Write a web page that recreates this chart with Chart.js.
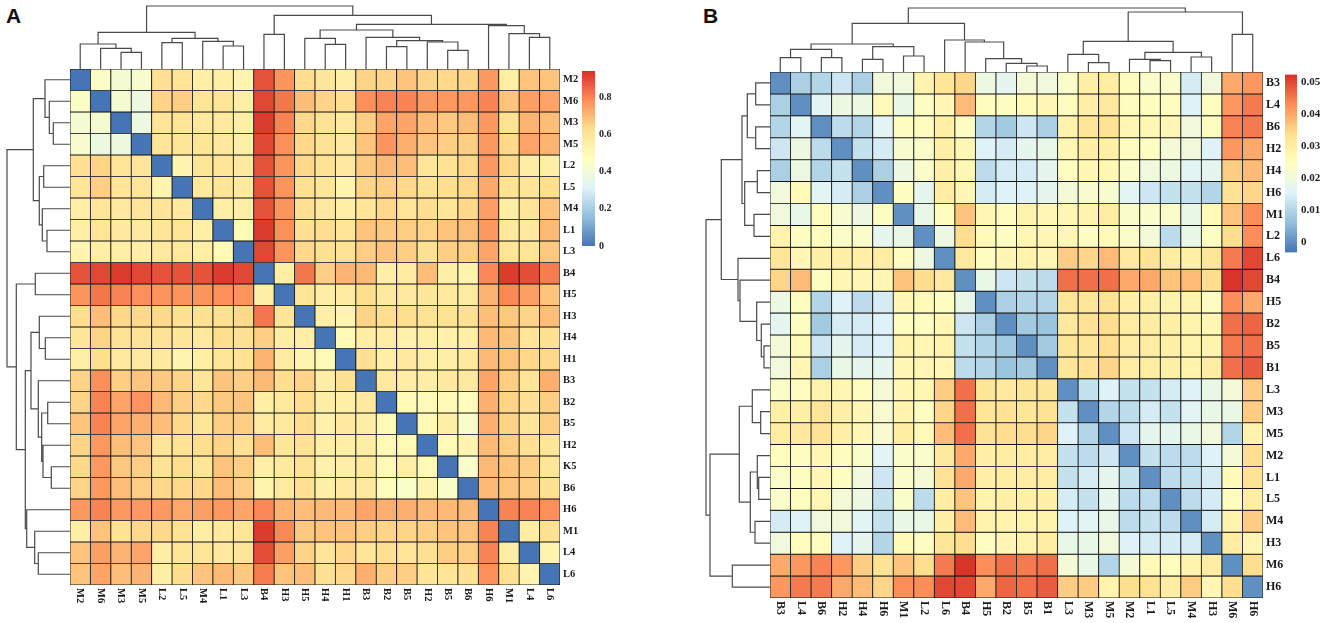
<!DOCTYPE html>
<html>
<head>
<meta charset="utf-8">
<script src="https://cdn.jsdelivr.net/npm/chart.js@4.4.0/dist/chart.umd.min.js"></script>
<style>
body { margin: 0; background: #fff; }
#page { position: relative; width: 1325px; height: 623px; overflow: hidden; }
#page canvas, .tag { position: absolute; }
.tag { font: bold 21px "Liberation Sans", Arial, sans-serif; line-height: 21px; color: #111; }
</style>
</head>
<body>
<div id="page">
  <div class="tag" style="left:6px;top:5px">A</div>
  <div class="tag" style="left:703px;top:5px">B</div>
</div>
<script>
// ---- panel A ----
const rowLabelsA = ["M2","M6","M3","M5","L2","L5","M4","L1","L3","B4","H5","H3","H4","H1","B3","B2","B5","H2","K5","B6","H6","M1","L4","L6"];
const colLabelsA = ["M2","M6","M3","M5","L2","L5","M4","L1","L3","B4","H3","H5","H4","H1","B3","B2","B5","H2","B5","B6","H6","M1","L4","L6"];
// upper triangle, row i holds columns i+1..23
const upperA = [
  [0.45,0.42,0.43,0.62,0.60,0.55,0.55,0.52,0.88,0.77,0.63,0.59,0.55,0.65,0.65,0.68,0.65,0.64,0.65,0.76,0.55,0.68,0.68],
  [0.42,0.38,0.65,0.66,0.60,0.60,0.55,0.90,0.82,0.69,0.65,0.63,0.78,0.80,0.80,0.76,0.76,0.76,0.80,0.68,0.75,0.74],
  [0.38,0.60,0.60,0.58,0.58,0.55,0.92,0.80,0.64,0.61,0.58,0.66,0.74,0.74,0.69,0.67,0.69,0.76,0.61,0.71,0.69],
  [0.60,0.60,0.60,0.58,0.55,0.90,0.78,0.64,0.61,0.58,0.68,0.77,0.72,0.68,0.66,0.66,0.76,0.64,0.74,0.71],
  [0.52,0.60,0.60,0.58,0.88,0.77,0.64,0.61,0.58,0.67,0.70,0.69,0.60,0.61,0.64,0.76,0.64,0.56,0.55],
  [0.58,0.60,0.58,0.88,0.77,0.62,0.59,0.52,0.65,0.66,0.64,0.61,0.63,0.64,0.73,0.61,0.60,0.63],
  [0.55,0.55,0.88,0.77,0.62,0.58,0.55,0.60,0.64,0.60,0.63,0.60,0.64,0.75,0.56,0.60,0.68],
  [0.50,0.92,0.78,0.62,0.63,0.60,0.68,0.67,0.66,0.65,0.68,0.69,0.76,0.58,0.58,0.70],
  [0.90,0.77,0.64,0.62,0.61,0.66,0.68,0.66,0.62,0.66,0.66,0.74,0.60,0.60,0.67],
  [0.55,0.82,0.66,0.71,0.70,0.55,0.57,0.69,0.55,0.53,0.79,0.92,0.89,0.81],
  [0.60,0.56,0.57,0.63,0.58,0.58,0.59,0.58,0.57,0.71,0.79,0.75,0.68],
  [0.55,0.52,0.65,0.63,0.63,0.61,0.61,0.62,0.69,0.67,0.65,0.69],
  [0.50,0.56,0.56,0.54,0.55,0.54,0.55,0.70,0.68,0.60,0.62],
  [0.62,0.55,0.58,0.55,0.55,0.58,0.70,0.68,0.64,0.64],
  [0.58,0.56,0.56,0.58,0.58,0.74,0.66,0.60,0.72],
  [0.50,0.50,0.50,0.48,0.72,0.65,0.62,0.66],
  [0.50,0.55,0.44,0.72,0.65,0.60,0.66],
  [0.50,0.52,0.70,0.66,0.62,0.60],
  [0.44,0.70,0.68,0.66,0.60],
  [0.70,0.68,0.66,0.62],
  [0.80,0.80,0.78],
  [0.56,0.62],
  [0.52]
];
// merges like hclust: negative = leaf (1-based), positive = earlier merge; third = height
const treeA = [
  [-3,-4,16.7],[-2,1,20.7],[-1,2,25],[-5,-6,26.3],[-8,-9,23],[-7,5,27.7],[4,6,30.7],[3,7,36.7],
  [-10,-11,34.7],[-13,-14,24.7],[-12,10,30.7],[-16,-17,22.3],[-19,-20,18.7],[-18,13,27],[12,14,28.3],
  [-15,15,31.7],[11,16,39],[-23,-24,31.7],[-22,18,35.3],[-21,19,43.3],[17,20,44.7],[9,21,53.7],[8,22,63]
];
const rangeA = [0, 0.94];
const ticksA = [0, 0.2, 0.4, 0.6, 0.8];

// ---- panel B ----
const labelsB = ["B3","L4","B6","H2","H4","H6","M1","L2","L6","B4","H5","B2","B5","B1","L3","M3","M5","M2","L1","L5","M4","H3","M6","H6"];
const upperB = [
  [0.009,0.010,0.013,0.009,0.020,0.020,0.028,0.032,0.035,0.019,0.017,0.021,0.020,0.023,0.029,0.030,0.025,0.023,0.023,0.014,0.020,0.040,0.042],
  [0.016,0.019,0.019,0.026,0.018,0.024,0.027,0.038,0.025,0.024,0.026,0.027,0.025,0.029,0.031,0.025,0.025,0.025,0.015,0.025,0.042,0.045],
  [0.011,0.010,0.016,0.025,0.025,0.029,0.024,0.010,0.008,0.013,0.009,0.028,0.032,0.033,0.027,0.027,0.027,0.020,0.025,0.044,0.045],
  [0.012,0.014,0.022,0.023,0.029,0.027,0.015,0.014,0.017,0.018,0.027,0.029,0.029,0.025,0.024,0.021,0.020,0.015,0.042,0.040],
  [0.009,0.019,0.023,0.029,0.027,0.011,0.014,0.014,0.017,0.025,0.027,0.027,0.023,0.020,0.019,0.016,0.017,0.036,0.038],
  [0.024,0.017,0.030,0.027,0.014,0.015,0.015,0.017,0.021,0.022,0.022,0.016,0.013,0.012,0.012,0.010,0.033,0.035],
  [0.018,0.025,0.037,0.027,0.025,0.028,0.027,0.027,0.028,0.030,0.023,0.023,0.023,0.018,0.026,0.037,0.043],
  [0.019,0.034,0.026,0.024,0.027,0.027,0.027,0.024,0.026,0.023,0.021,0.011,0.018,0.024,0.034,0.043],
  [0.031,0.024,0.027,0.028,0.027,0.036,0.035,0.038,0.031,0.033,0.030,0.029,0.032,0.045,0.050],
  [0.018,0.013,0.012,0.011,0.046,0.046,0.046,0.040,0.040,0.037,0.038,0.034,0.052,0.050],
  [0.009,0.010,0.010,0.032,0.032,0.033,0.029,0.029,0.028,0.028,0.024,0.043,0.040],
  [0.008,0.007,0.031,0.033,0.034,0.030,0.030,0.029,0.028,0.027,0.046,0.047],
  [0.008,0.032,0.032,0.034,0.030,0.030,0.029,0.028,0.028,0.045,0.046],
  [0.032,0.033,0.035,0.030,0.030,0.029,0.028,0.030,0.046,0.048],
  [0.012,0.015,0.012,0.012,0.014,0.015,0.018,0.021,0.036],
  [0.010,0.011,0.014,0.012,0.016,0.018,0.018,0.036],
  [0.013,0.017,0.017,0.018,0.020,0.010,0.028],
  [0.012,0.011,0.011,0.015,0.021,0.034],
  [0.011,0.012,0.014,0.026,0.033],
  [0.011,0.014,0.025,0.030],
  [0.014,0.028,0.036],
  [0.030,0.027],
  [0.034]
];
const treeB = [
  [-1,-2,14.3],[-3,-4,14.3],[1,2,22.7],[-5,-6,12.7],[-7,-8,16],[4,5,25.3],[3,6,28],
  [-13,-14,6],[-12,8,8.7],[-11,9,13.3],[-10,10,30],[-9,11,32],[7,12,48.7],
  [-16,-17,9.3],[-15,14,17.7],[-19,-20,11.3],[-18,16,12.7],[-21,-22,15],[17,18,19.7],[15,19,30.7],
  [-23,-24,37.7],[20,21,60],[13,22,64]
];
const rangeB = [-0.0033, 0.0524];
const ticksB = [0, 0.01, 0.02, 0.03, 0.04, 0.05];

const ramp = ["#4575B4","#91BFDB","#E0F3F8","#FFFFBF","#FEE090","#FC8D59","#D73027"];

function hexRgb(h) {
    return [1, 3, 5].map(i => parseInt(h.substr(i, 2), 16));
}

function rampColor(v, range) {
    let t = (v - range[0]) / (range[1] - range[0]);
    t = Math.min(1, Math.max(0, t)) * (ramp.length - 1);
    const k = Math.min(ramp.length - 2, Math.floor(t));
    const f = t - k;
    const a = hexRgb(ramp[k]), b = hexRgb(ramp[k + 1]);
    const c = a.map((x, i) => Math.round(x + (b[i] - x) * f));
    return "rgb(" + c.join(",") + ")";
}

function fullMatrix(upper) {
    const n = upper.length + 1;
    const m = [];
    for (let i = 0; i < n; i++) {
        m.push([]);
        for (let j = 0; j < n; j++) {
            if (i === j) m[i].push(0);
            else if (j > i) m[i].push(upper[i][j - i - 1]);
            else m[i].push(upper[j][i - j - 1]);
        }
    }
    return m;
}

function makeCanvas(left, top, w, h) {
    const c = document.createElement("canvas");
    c.width = w;
    c.height = h;
    c.style.left = left + "px";
    c.style.top = top + "px";
    c.style.width = w + "px";
    c.style.height = h + "px";
    document.getElementById("page").appendChild(c);
    return c;
}

const quiet = { legend: { display: false }, tooltip: { enabled: false } };

const axisLabels = {
    id: "axisLabels",
    afterDraw(chart, args, opts) {
        const { ctx, chartArea, scales } = chart;
        ctx.save();
        ctx.font = opts.font;
        ctx.fillStyle = "#1a1a1a";
        ctx.textAlign = "left";
        ctx.textBaseline = "middle";
        opts.rows.forEach((t, r) => {
            ctx.fillText(t, chartArea.right + opts.gap, scales.y.getPixelForValue(r + 0.5));
        });
        opts.cols.forEach((t, c) => {
            ctx.save();
            ctx.translate(scales.x.getPixelForValue(c), chartArea.bottom + opts.gap);
            ctx.rotate(Math.PI / 2);
            ctx.fillText(t, 0, 0);
            ctx.restore();
        });
        ctx.restore();
    }
};

function drawHeatmap(box, rows, cols, matrix, range, font) {
    const canvas = makeCanvas(box.x, box.y, box.w + 22, box.h + 24);
    const datasets = rows.map((name, r) => ({
        label: name,
        data: cols.map(() => [r, r + 1]),
        backgroundColor: matrix[r].map(v => rampColor(v, range)),
        borderColor: "#141414",
        borderWidth: 0.8,
        borderSkipped: false,
        barPercentage: 1,
        categoryPercentage: 1,
        grouped: false
    }));
    new Chart(canvas, {
        type: "bar",
        data: { labels: cols, datasets: datasets },
        options: {
            responsive: false,
            animation: false,
            layout: { padding: { right: 22, bottom: 24 } },
            plugins: Object.assign({ axisLabels: { rows: rows, cols: cols, font: font, gap: 3 } }, quiet),
            scales: {
                x: { type: "category", display: false, offset: true },
                y: { type: "linear", display: false, min: 0, max: rows.length, reverse: true }
            }
        },
        plugins: [axisLabels]
    });
}

function dendroPoints(tree) {
    const pos = [], hgt = [], pts = [];
    const at = k => k < 0 ? [-k - 1, 0] : [pos[k - 1], hgt[k - 1]];
    tree.forEach(([a, b, h], i) => {
        const [pa, ha] = at(a);
        const [pb, hb] = at(b);
        pts.push({ p: pa, h: ha }, { p: pa, h: h }, { p: pb, h: h }, { p: pb, h: hb }, { p: NaN, h: NaN });
        pos[i] = (pa + pb) / 2;
        hgt[i] = h;
    });
    return pts;
}

function drawDendro(box, tree, n, side) {
    const canvas = makeCanvas(box.x, box.y, box.w, box.h);
    const pts = dendroPoints(tree);
    const top = side === "top";
    const leafAxis = { type: "linear", display: false, min: -0.5, max: n - 0.5, reverse: !top };
    const hAxis = { type: "linear", display: false, min: 0, max: top ? box.h : box.w, reverse: !top };
    new Chart(canvas, {
        type: "scatter",
        data: {
            datasets: [{
                data: pts.map(q => top ? { x: q.p, y: q.h } : { x: q.h, y: q.p }),
                showLine: true,
                spanGaps: false,
                pointRadius: 0,
                borderColor: "#4a4a4a",
                borderWidth: 1.2
            }]
        },
        options: {
            responsive: false,
            animation: false,
            layout: { padding: 0 },
            plugins: quiet,
            scales: top ? { x: leafAxis, y: hAxis } : { x: hAxis, y: leafAxis }
        }
    });
}

function drawColorbar(box, range, ticks, font) {
    const pad = 8;
    const canvas = makeCanvas(box.x, box.y - pad, box.w + 36, box.h + 2 * pad);
    new Chart(canvas, {
        type: "bar",
        data: {
            labels: [""],
            datasets: [{
                data: [range],
                borderWidth: 0,
                barPercentage: 1,
                categoryPercentage: 1,
                backgroundColor: function(c) {
                    const chart = c.chart;
                    if (!chart.chartArea) return ramp[0];
                    const ys = chart.scales.y;
                    const g = chart.ctx.createLinearGradient(0, ys.getPixelForValue(range[0]), 0, ys.getPixelForValue(range[1]));
                    ramp.forEach((col, k) => g.addColorStop(k / (ramp.length - 1), col));
                    return g;
                }
            }]
        },
        options: {
            responsive: false,
            animation: false,
            layout: { padding: { top: pad, bottom: pad } },
            plugins: quiet,
            scales: {
                x: { display: false },
                y: {
                    position: "right",
                    min: range[0],
                    max: range[1],
                    grid: { display: false, drawTicks: false },
                    border: { display: false },
                    afterFit: s => { s.width = 36; },
                    afterBuildTicks: s => { s.ticks = ticks.map(v => ({ value: v })); },
                    ticks: { padding: 4, color: "#222", font: font, callback: v => String(v) }
                }
            }
        }
    });
}

// panel A
const heatA = { x: 70, y: 69, w: 490, h: 516 };
drawHeatmap(heatA, rowLabelsA, colLabelsA, fullMatrix(upperA), rangeA, 'bold 10.5px "Liberation Serif"');
drawDendro({ x: heatA.x, y: 0, w: heatA.w, h: heatA.y }, treeA, rowLabelsA.length, "top");
drawDendro({ x: 0, y: heatA.y, w: heatA.x, h: heatA.h }, treeA, rowLabelsA.length, "left");
drawColorbar({ x: 582, y: 69, w: 13, h: 179 }, rangeA, ticksA, { family: '"Liberation Serif"', size: 10, weight: "bold" });

// panel B
const heatB = { x: 770, y: 72, w: 493, h: 526 };
drawHeatmap(heatB, labelsB, labelsB, fullMatrix(upperB), rangeB, 'bold 12px "Liberation Serif"');
drawDendro({ x: heatB.x, y: 0, w: heatB.w, h: heatB.y }, treeB, labelsB.length, "top");
drawDendro({ x: 700, y: heatB.y, w: 70, h: heatB.h }, treeB, labelsB.length, "left");
drawColorbar({ x: 1285, y: 72, w: 12, h: 183 }, rangeB, ticksB, { family: '"Liberation Serif"', size: 11, weight: "bold" });
</script>
</body>
</html>
